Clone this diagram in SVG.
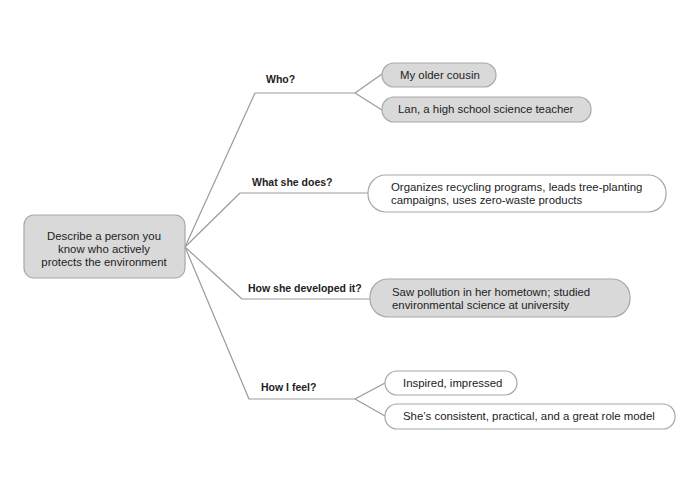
<svg xmlns="http://www.w3.org/2000/svg" width="700" height="495" viewBox="0 0 700 495">
<style>
.bg{fill:#ffffff}
.n-gray{fill:#d9d9d9;stroke:#a8a8a8;stroke-width:1.2}
.n-white{fill:#ffffff;stroke:#a8a8a8;stroke-width:1.2}
.t{font-family:"Liberation Sans","DejaVu Sans",sans-serif;font-size:11.4px;fill:#222}
.c{text-anchor:middle}
.lbl{font-family:"Liberation Sans","DejaVu Sans",sans-serif;font-size:10.5px;font-weight:bold;fill:#222}
.edge{fill:none;stroke:#9a9a9a;stroke-width:1.2;stroke-linejoin:round}
</style>
<rect class="bg" x="0" y="0" width="700" height="495"/>
<g id="connectors">
<path class="edge" d="M185,247 L255,93 L355,93"/>
<path class="edge" d="M355,93 L382,74"/>
<path class="edge" d="M355,93 L382,110"/>
<path class="edge" d="M185,247 L240,193 L368,193"/>
<path class="edge" d="M185,247 L242,299 L370,299"/>
<path class="edge" d="M185,247 L249,399 L355,399"/>
<path class="edge" d="M355,399 L385,383"/>
<path class="edge" d="M355,399 L385,416"/>
</g>
<g id="root">
<rect class="n-gray" x="24" y="215" width="161" height="63" rx="10"/>
<text class="t c" x="104" y="240">Describe a person you</text>
<text class="t c" x="104" y="253">know who actively</text>
<text class="t c" x="104" y="266">protects the environment</text>
</g>
<g id="label-who"><text class="lbl" x="266" y="83">Who?</text></g>
<g id="label-what"><text class="lbl" x="252" y="186">What she does?</text></g>
<g id="label-how"><text class="lbl" x="248" y="292">How she developed it?</text></g>
<g id="label-feel"><text class="lbl" x="261" y="391">How I feel?</text></g>
<g id="who-1">
<rect class="n-gray" x="382" y="63" width="114" height="24" rx="12"/>
<text class="t" x="400" y="79">My older cousin</text>
</g>
<g id="who-2">
<rect class="n-gray" x="382" y="97" width="209" height="25" rx="12"/>
<text class="t" x="398" y="113">Lan, a high school science teacher</text>
</g>
<g id="what-1">
<rect class="n-white" x="368" y="175" width="298" height="37" rx="18"/>
<text class="t" x="391" y="191">Organizes recycling programs, leads tree-planting</text>
<text class="t" x="391" y="204">campaigns, uses zero-waste products</text>
</g>
<g id="how-1">
<rect class="n-gray" x="370" y="279" width="260" height="38" rx="18"/>
<text class="t" x="392" y="296">Saw pollution in her hometown; studied</text>
<text class="t" x="392" y="309">environmental science at university</text>
</g>
<g id="feel-1">
<rect class="n-white" x="385" y="371" width="132" height="24" rx="12"/>
<text class="t" x="403" y="387">Inspired, impressed</text>
</g>
<g id="feel-2">
<rect class="n-white" x="385" y="404" width="290" height="25" rx="12"/>
<text class="t" x="403" y="420">She’s consistent, practical, and a great role model</text>
</g>
</svg>
